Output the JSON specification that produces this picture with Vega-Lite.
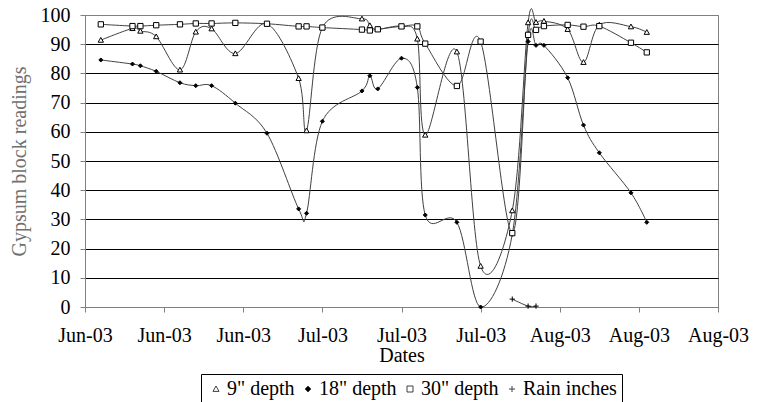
{
  "$schema": "https://vega.github.io/schema/vega-lite/v6.json",
  "width": 633,
  "height": 292,
  "autosize": {"type": "none"},
  "padding": {"left": 85, "top": 15, "right": 47, "bottom": 95},
  "config": {
    "font": "Liberation Serif",
    "view": {"stroke": "#808080", "strokeWidth": 1}
  },
  "data": {
    "values": [
      {"date": "2003-06-06", "series": "9\" depth", "reading": 91.4},
      {"date": "2003-06-06", "series": "18\" depth", "reading": 84.6},
      {"date": "2003-06-06", "series": "30\" depth", "reading": 96.8},
      {"date": "2003-06-10", "series": "9\" depth", "reading": 95.4},
      {"date": "2003-06-10", "series": "18\" depth", "reading": 83.2},
      {"date": "2003-06-10", "series": "30\" depth", "reading": 96.2},
      {"date": "2003-06-11", "series": "9\" depth", "reading": 94.5},
      {"date": "2003-06-11", "series": "18\" depth", "reading": 82.6},
      {"date": "2003-06-11", "series": "30\" depth", "reading": 96.2},
      {"date": "2003-06-13", "series": "9\" depth", "reading": 92.6},
      {"date": "2003-06-13", "series": "18\" depth", "reading": 80.7},
      {"date": "2003-06-13", "series": "30\" depth", "reading": 96.5},
      {"date": "2003-06-16", "series": "9\" depth", "reading": 81.2},
      {"date": "2003-06-16", "series": "18\" depth", "reading": 76.8},
      {"date": "2003-06-16", "series": "30\" depth", "reading": 96.8},
      {"date": "2003-06-18", "series": "9\" depth", "reading": 94.2},
      {"date": "2003-06-18", "series": "18\" depth", "reading": 75.8},
      {"date": "2003-06-18", "series": "30\" depth", "reading": 97.1},
      {"date": "2003-06-20", "series": "9\" depth", "reading": 95.3},
      {"date": "2003-06-20", "series": "18\" depth", "reading": 75.8},
      {"date": "2003-06-20", "series": "30\" depth", "reading": 97.1},
      {"date": "2003-06-23", "series": "9\" depth", "reading": 86.8},
      {"date": "2003-06-23", "series": "18\" depth", "reading": 69.8},
      {"date": "2003-06-23", "series": "30\" depth", "reading": 97.3},
      {"date": "2003-06-27", "series": "9\" depth", "reading": 97.0},
      {"date": "2003-06-27", "series": "18\" depth", "reading": 59.5},
      {"date": "2003-06-27", "series": "30\" depth", "reading": 97.0},
      {"date": "2003-07-01", "series": "9\" depth", "reading": 78.3},
      {"date": "2003-07-01", "series": "18\" depth", "reading": 33.6},
      {"date": "2003-07-01", "series": "30\" depth", "reading": 96.1},
      {"date": "2003-07-02", "series": "9\" depth", "reading": 60.4},
      {"date": "2003-07-02", "series": "18\" depth", "reading": 32.1},
      {"date": "2003-07-02", "series": "30\" depth", "reading": 96.1},
      {"date": "2003-07-04", "series": "9\" depth", "reading": 95.7},
      {"date": "2003-07-04", "series": "18\" depth", "reading": 63.6},
      {"date": "2003-07-04", "series": "30\" depth", "reading": 95.7},
      {"date": "2003-07-09", "series": "9\" depth", "reading": 98.7},
      {"date": "2003-07-09", "series": "18\" depth", "reading": 74.0},
      {"date": "2003-07-09", "series": "30\" depth", "reading": 95.0},
      {"date": "2003-07-10", "series": "9\" depth", "reading": 96.4},
      {"date": "2003-07-10", "series": "18\" depth", "reading": 79.2},
      {"date": "2003-07-10", "series": "30\" depth", "reading": 94.7},
      {"date": "2003-07-11", "series": "9\" depth", "reading": 95.1},
      {"date": "2003-07-11", "series": "18\" depth", "reading": 74.7},
      {"date": "2003-07-11", "series": "30\" depth", "reading": 95.1},
      {"date": "2003-07-14", "series": "9\" depth", "reading": 96.1},
      {"date": "2003-07-14", "series": "18\" depth", "reading": 85.2},
      {"date": "2003-07-14", "series": "30\" depth", "reading": 96.1},
      {"date": "2003-07-16", "series": "9\" depth", "reading": 91.8},
      {"date": "2003-07-16", "series": "18\" depth", "reading": 75.2},
      {"date": "2003-07-16", "series": "30\" depth", "reading": 96.1},
      {"date": "2003-07-17", "series": "9\" depth", "reading": 58.9},
      {"date": "2003-07-17", "series": "18\" depth", "reading": 31.5},
      {"date": "2003-07-17", "series": "30\" depth", "reading": 90.2},
      {"date": "2003-07-21", "series": "9\" depth", "reading": 87.4},
      {"date": "2003-07-21", "series": "18\" depth", "reading": 29.0},
      {"date": "2003-07-21", "series": "30\" depth", "reading": 75.7},
      {"date": "2003-07-24", "series": "9\" depth", "reading": 14.0},
      {"date": "2003-07-24", "series": "18\" depth", "reading": 0.0},
      {"date": "2003-07-24", "series": "30\" depth", "reading": 90.9},
      {"date": "2003-07-28", "series": "9\" depth", "reading": 33.0},
      {"date": "2003-07-28", "series": "18\" depth", "reading": 24.9},
      {"date": "2003-07-28", "series": "30\" depth", "reading": 25.3},
      {"date": "2003-07-28", "series": "Rain inches", "reading": 2.7},
      {"date": "2003-07-30", "series": "9\" depth", "reading": 97.4},
      {"date": "2003-07-30", "series": "18\" depth", "reading": 90.9},
      {"date": "2003-07-30", "series": "30\" depth", "reading": 93.2},
      {"date": "2003-07-30", "series": "Rain inches", "reading": 0.3},
      {"date": "2003-07-31", "series": "9\" depth", "reading": 97.5},
      {"date": "2003-07-31", "series": "18\" depth", "reading": 89.6},
      {"date": "2003-07-31", "series": "30\" depth", "reading": 94.9},
      {"date": "2003-07-31", "series": "Rain inches", "reading": 0.3},
      {"date": "2003-08-01", "series": "9\" depth", "reading": 97.9},
      {"date": "2003-08-01", "series": "18\" depth", "reading": 89.6},
      {"date": "2003-08-01", "series": "30\" depth", "reading": 96.2},
      {"date": "2003-08-04", "series": "9\" depth", "reading": 95.1},
      {"date": "2003-08-04", "series": "18\" depth", "reading": 78.5},
      {"date": "2003-08-04", "series": "30\" depth", "reading": 96.6},
      {"date": "2003-08-06", "series": "9\" depth", "reading": 83.8},
      {"date": "2003-08-06", "series": "18\" depth", "reading": 62.3},
      {"date": "2003-08-06", "series": "30\" depth", "reading": 96.0},
      {"date": "2003-08-08", "series": "9\" depth", "reading": 96.6},
      {"date": "2003-08-08", "series": "18\" depth", "reading": 52.8},
      {"date": "2003-08-08", "series": "30\" depth", "reading": 96.2},
      {"date": "2003-08-12", "series": "9\" depth", "reading": 96.0},
      {"date": "2003-08-12", "series": "18\" depth", "reading": 39.1},
      {"date": "2003-08-12", "series": "30\" depth", "reading": 90.5},
      {"date": "2003-08-14", "series": "9\" depth", "reading": 94.1},
      {"date": "2003-08-14", "series": "18\" depth", "reading": 29.0},
      {"date": "2003-08-14", "series": "30\" depth", "reading": 87.2}
    ]
  },
  "encoding": {
    "x": {
      "field": "date",
      "type": "temporal",
      "scale": {
        "type": "utc",
        "domain": [
          {"year": 2003, "month": 6, "date": 4, "utc": true},
          {"year": 2003, "month": 8, "date": 23, "utc": true}
        ]
      },
      "axis": {
        "title": "Dates",
        "values": [
          {"year": 2003, "month": 6, "date": 4, "utc": true},
          {"year": 2003, "month": 6, "date": 14, "utc": true},
          {"year": 2003, "month": 6, "date": 24, "utc": true},
          {"year": 2003, "month": 7, "date": 4, "utc": true},
          {"year": 2003, "month": 7, "date": 14, "utc": true},
          {"year": 2003, "month": 7, "date": 24, "utc": true},
          {"year": 2003, "month": 8, "date": 3, "utc": true},
          {"year": 2003, "month": 8, "date": 13, "utc": true},
          {"year": 2003, "month": 8, "date": 23, "utc": true}
        ],
        "labelExpr": "utcFormat(datum.value, '%b-%y')",
        "grid": false,
        "labelFont": "Liberation Serif",
        "labelFontSize": 20,
        "labelColor": "black",
        "labelPadding": 13,
        "labelFlush": false,
        "labelOverlap": false,
        "domainColor": "#808080",
        "tickColor": "#808080",
        "tickSize": 5,
        "titleFont": "Liberation Serif",
        "titleFontSize": 20,
        "titleFontWeight": "normal",
        "titleColor": "black",
        "titleBaseline": "alphabetic",
        "titleY": 54
      }
    },
    "y": {
      "field": "reading",
      "type": "quantitative",
      "scale": {"domain": [0, 100], "nice": false},
      "axis": {
        "title": "Gypsum block readings",
        "values": [0, 10, 20, 30, 40, 50, 60, 70, 80, 90, 100],
        "labelOverlap": false,
        "grid": true,
        "gridColor": {"condition": {"test": "datum.value === 0 || datum.value === 100", "value": "#808080"}, "value": "black"},
        "gridWidth": 1,
        "domainColor": "#808080",
        "tickColor": "#808080",
        "tickSize": 5,
        "labelFont": "Liberation Serif",
        "labelFontSize": 20,
        "labelColor": "black",
        "labelPadding": 10,
        "titleFont": "Liberation Serif",
        "titleFontSize": 20,
        "titleFontWeight": "normal",
        "titleColor": "#707070",
        "titleAngle": 270,
        "titleBaseline": "middle",
        "titleAlign": "center",
        "titleX": -66,
        "titleY": 146
      }
    }
  },
  "layer": [
    {
      "mark": {"type": "line", "interpolate": "cardinal", "strokeWidth": 1},
      "encoding": {
        "color": {
          "field": "series",
          "type": "nominal",
          "scale": {
            "domain": ["9\" depth", "18\" depth", "30\" depth", "Rain inches"],
            "range": ["#404040", "#404040", "#404040", "#404040"]
          },
          "legend": {
            "title": null,
            "orient": "none",
            "legendX": 116,
            "legendY": 359,
            "direction": "horizontal",
            "strokeColor": "black",
            "fillColor": "white",
            "padding": 5,
            "labelFont": "Liberation Serif",
            "labelFontSize": 20,
            "labelColor": "black",
            "labelOffset": 1,
            "columnPadding": 3,
            "symbolType": "stroke",
            "symbolSize": 36,
            "symbolStrokeWidth": 1,
            "encode": {
              "symbols": {
                "update": {
                  "shape": {"signal": "datum.value === '9\" depth' ? 'M-1.6,0H1.6M0,-0.4L0.4,0.3L-0.4,0.3Z' : datum.value === '18\" depth' ? 'M-1.6,0H1.6M0,-0.35L0.35,0L0,0.35L-0.35,0Z' : datum.value === '30\" depth' ? 'M-1.6,0H1.6M-0.35,-0.35H0.35V0.35H-0.35Z' : 'M-1.6,0H1.6M0,-0.4V0.4'"},
                  "fill": {"signal": "datum.value === '18\" depth' ? 'black' : 'white'"},
                  "stroke": {"value": "black"},
                  "strokeWidth": {"value": 1},
                  "opacity": {"value": 1}
                }
              }
            }
          }
        }
      }
    },
    {
      "mark": {"type": "point", "filled": false, "color": "black", "stroke": "black", "strokeWidth": 1, "opacity": 1},
      "encoding": {
        "shape": {
          "field": "series",
          "type": "nominal",
          "scale": {
            "domain": ["9\" depth", "18\" depth", "30\" depth", "Rain inches"],
            "range": ["M0,-1L1,0.8L-1,0.8Z", "M0,-1L1,0L0,1L-1,0Z", "M-1,-1H1V1H-1Z", "M-1,0H1M0,-1V1"]
          },
          "legend": null
        },
        "fill": {
          "condition": {"test": "datum.series === '18\" depth'", "value": "black"},
          "value": "white"
        },
        "size": {
          "condition": {"test": "datum.series === '18\" depth'", "value": 16},
          "value": 28
        }
      }
    }
  ]
}
